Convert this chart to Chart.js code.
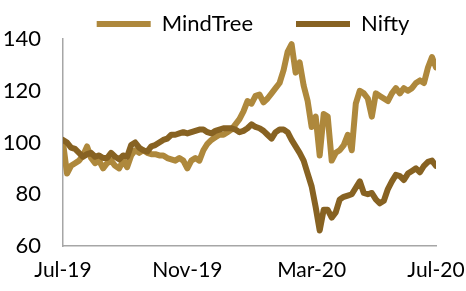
<!DOCTYPE html>
<html>
<head>
<meta charset="utf-8">
<script src="https://cdn.jsdelivr.net/npm/chart.js@4"></script>
<style>
  html, body { margin: 0; padding: 0; background: #fff; }
  #wrap { width: 466px; height: 291px; }
</style>
</head>
<body>
<div id="wrap"><canvas id="grafica" width="466" height="291"></canvas></div>
<script>
// etiquetas del eje x (cada 4 meses)
const xLabels = ['Jul-19', 'Nov-19', 'Mar-20', 'Jul-20'];
const yTicks = [60, 80, 100, 120, 140];

// valores (base 100 en Jul-19)
const mindtree = [
    100, 88, 91, 92, 93, 95, 98.5, 94, 92, 93,
    90, 92, 93, 91, 90, 93, 90.5, 95, 97, 96,
    97, 96, 95.5, 95.5, 95, 95, 94, 93.5, 93, 94,
    93, 90, 93, 94, 93, 97, 99.5, 101, 102, 103,
    103, 104, 105, 107, 109, 112, 116, 115, 118, 118.5,
    115.5, 117, 119, 121, 123, 128, 135, 138, 127, 131,
    122, 116, 106, 110, 95, 111, 110, 93, 96, 97,
    99, 103, 97, 115, 120, 119, 117, 110, 119, 118,
    117, 116, 119, 121, 119, 121, 120, 121, 123, 124,
    123, 129, 133, 129
];
const nifty = [
    101, 100, 98, 97.5, 96, 94.5, 95.5, 96, 94.5, 95,
    94, 94, 96, 94.5, 93.5, 95, 94.5, 99, 100, 98,
    97, 96.5, 98.5, 99, 100, 101, 101.5, 103, 103, 103.5,
    104, 103.5, 104, 104.5, 105, 105, 104, 103.5, 104.5, 105,
    105.5, 105.5, 105.5, 105, 104, 104.5, 105.5, 107, 106, 105.5,
    104.5, 103, 101.5, 104, 105, 105, 104, 101, 98.5, 96,
    93, 88, 83, 75, 66, 74, 74, 71, 73, 78,
    79, 79.5, 80, 82.5, 85, 80.5, 80, 80.5, 78, 76.5,
    77.5, 82, 85, 87.5, 87, 85.5, 88, 89, 90, 88.5,
    91, 92.5, 93, 91
];

const colorMindTree = '#AE883C';
const colorNifty = '#876222';
const ultimo = mindtree.length - 1;
const paso = ultimo / (xLabels.length - 1);

// mueve la leyenda para dejarla donde esta en el original
const moverLeyenda = {
    id: 'moverLeyenda',
    afterLayout(chart) {
        const lg = chart.legend;
        if (!lg) return;
        const dx = 253 - (lg.left + lg.right) / 2;
        lg.left += dx;
        lg.right += dx;
        lg.top += 6;
        lg.bottom += 6;
    }
};

const ctx = document.getElementById('grafica').getContext('2d');
new Chart(ctx, {
    type: 'line',
    data: {
        datasets: [
            {
                label: 'MindTree',
                data: mindtree.map((v, i) => ({ x: i, y: v })),
                borderColor: colorMindTree,
                backgroundColor: colorMindTree,
                borderWidth: 6,
                borderCapStyle: 'round',
                borderJoinStyle: 'round',
                pointRadius: 0,
                tension: 0,
                order: 1
            },
            {
                label: 'Nifty',
                data: nifty.map((v, i) => ({ x: i, y: v })),
                borderColor: colorNifty,
                backgroundColor: colorNifty,
                borderWidth: 6,
                borderCapStyle: 'round',
                borderJoinStyle: 'round',
                pointRadius: 0,
                tension: 0,
                order: 0
            }
        ]
    },
    options: {
        responsive: false,
        animation: false,
        layout: { padding: { top: -36, right: 30, left: 0, bottom: 0 } },
        plugins: {
            tooltip: { enabled: false },
            legend: {
                position: 'top',
                labels: {
                    usePointStyle: true,
                    pointStyle: 'line',
                    pointStyleWidth: 54,
                    padding: 43,
                    color: '#000',
                    font: { family: 'Lato', size: 22 },
                    sort: (a, b) => a.datasetIndex - b.datasetIndex
                }
            }
        },
        scales: {
            x: {
                type: 'linear',
                min: 0,
                max: ultimo,
                afterFit: (s) => {
                    s.height = 45;
                    s.paddingLeft = 0;
                    s.paddingRight = 0;
                },
                afterBuildTicks: (s) => {
                    s.ticks = xLabels.map((_, i) => ({ value: i * paso }));
                },
                ticks: {
                    autoSkip: false,
                    maxRotation: 0,
                    padding: 12,
                    color: '#000',
                    font: { family: 'Lato', size: 21 },
                    callback: (v) => xLabels[Math.round(v / paso)]
                },
                grid: { display: false, drawTicks: false },
                border: { display: true, color: '#A6A6A6', width: 1.5 }
            },
            y: {
                min: yTicks[0],
                max: yTicks[yTicks.length - 1],
                afterFit: (s) => { s.width = 63; },
                afterBuildTicks: (s) => {
                    s.ticks = yTicks.map(v => ({ value: v }));
                },
                ticks: {
                    padding: 22,
                    color: '#000',
                    font: { family: 'Lato', size: 22 }
                },
                grid: { display: false, drawTicks: false },
                border: { display: true, color: '#A6A6A6', width: 1.5 }
            }
        }
    },
    plugins: [moverLeyenda]
});
</script>
</body>
</html>
